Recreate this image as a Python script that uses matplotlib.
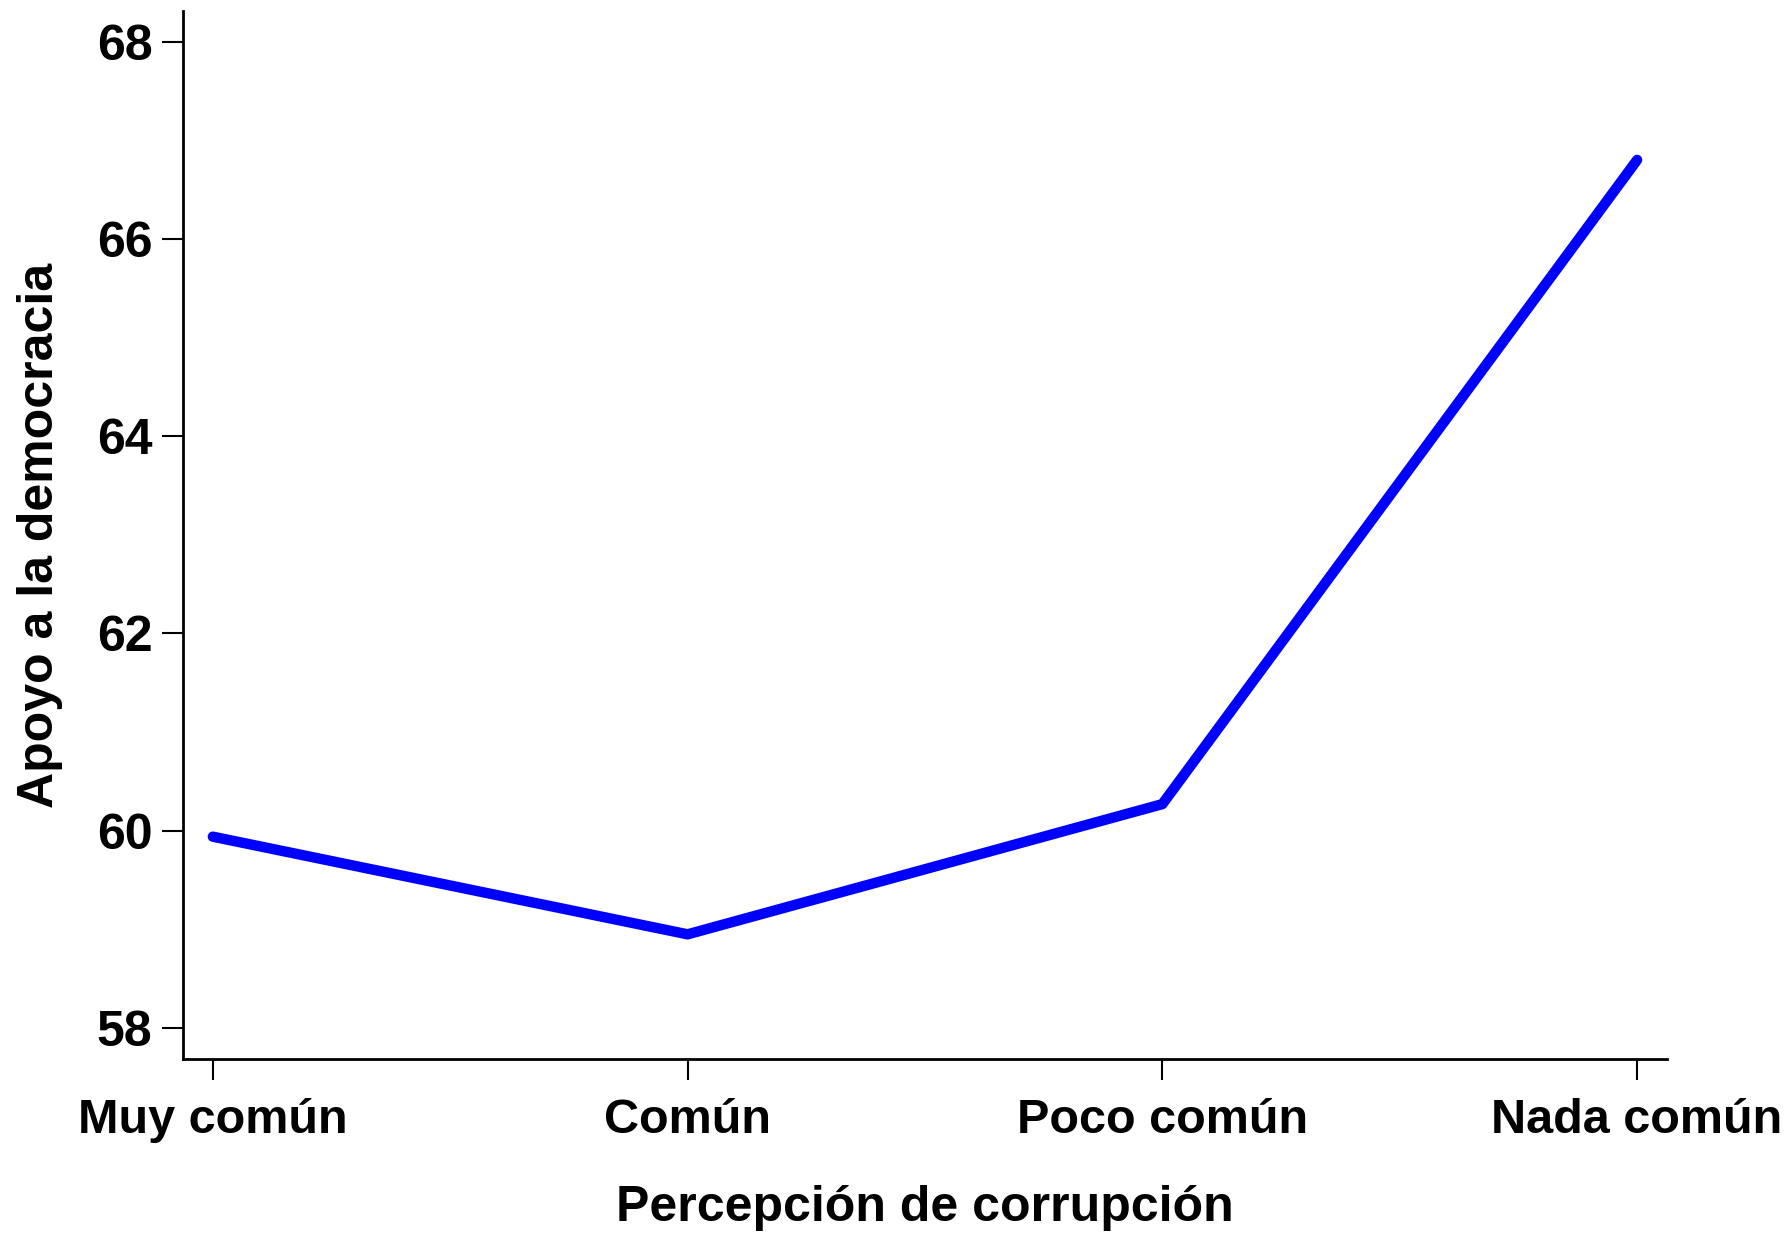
import matplotlib
matplotlib.use("Agg")
import matplotlib.pyplot as plt

# --- Datos ---
categorias = ["Muy común", "Común", "Poco común", "Nada común"]
apoyo = [59.94, 58.95, 60.27, 66.80]
yticks = [58, 60, 62, 64, 66, 68]

plt.rcParams["font.family"] = ["Liberation Sans", "DejaVu Sans"]
plt.rcParams["font.weight"] = "bold"

fig = plt.figure(figsize=(17.9, 12.33), dpi=100)
ax = fig.add_axes([0.1022, 0.1411, 0.8291, 0.85])

x = list(range(len(categorias)))
ax.plot(x, apoyo, color="#0000ff", lw=7.5, solid_capstyle="round",
        solid_joinstyle="round")

ax.set_xlim(-0.063, 3.063)
ax.set_ylim(57.686, 68.31)
ax.set_xticks(x)
ax.set_xticklabels(categorias)
ax.set_yticks(yticks)

for s in ("top", "right"):
    ax.spines[s].set_visible(False)
for s in ("left", "bottom"):
    ax.spines[s].set_linewidth(2)

ax.tick_params(axis="both", direction="out", length=15, width=1.5,
               labelsize=36, pad=7)
ax.tick_params(axis="x", pad=13, labelsize=35)
for lab in ax.get_xticklabels() + ax.get_yticklabels():
    lab.set_fontweight("bold")

ax.set_xlabel("Percepción de corrupción", fontsize=36, fontweight="bold",
              labelpad=30)
ax.set_ylabel("Apoyo a la democracia", fontsize=36, fontweight="bold",
              labelpad=24)

fig.savefig("out.png", dpi=100)
